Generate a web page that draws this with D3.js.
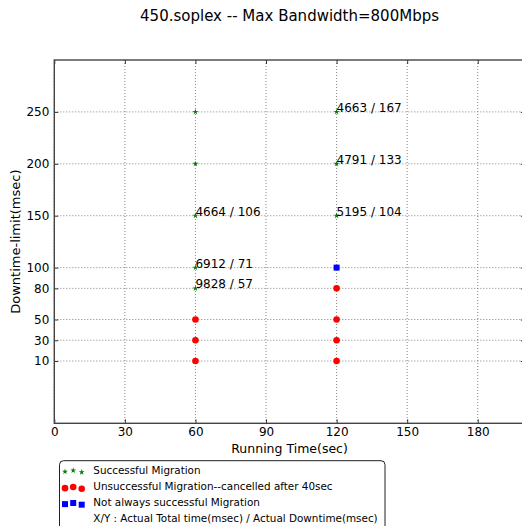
<!DOCTYPE html>
<html lang="en">
<head>
    <meta charset="UTF-8">
    <title>450.soplex -- Max Bandwidth=800Mbps</title>
    <script src="https://cdnjs.cloudflare.com/ajax/libs/d3/7.8.5/d3.min.js"></script>
    <style>
        body { margin: 0; background: #fff; }
        svg { display: block; font-family: "DejaVu Sans", sans-serif; }
        .tick text { font-family: "DejaVu Sans", sans-serif; font-size: 12px; fill: #000; }
    </style>
</head>
<body>
<script type="text/javascript">
    // chart data
    const successX = [60, 60, 60, 60, 60, 120, 120, 120];
    const successY = [250, 200, 150, 100, 80, 250, 200, 150];
    const failedX = [60, 60, 60, 120, 120, 120, 120];
    const failedY = [50, 30, 10, 80, 50, 30, 10];
    const partialX = [120];
    const partialY = [100];
    const noteX = [60, 60, 60, 120, 120, 120];
    const noteY = [150, 100, 80, 250, 200, 150];
    const noteText = ["4664 / 106", "6912 / 71", "9828 / 57", "4663 / 167", "4791 / 133", "5195 / 104"];
    const xTicks = [0, 30, 60, 90, 120, 150, 180];
    const yTicks = [10, 30, 50, 80, 100, 150, 200, 250];
    const legendLabels = ["Successful Migration",
                          "Unsuccessful Migration--cancelled after 40sec",
                          "Not always successful Migration",
                          "X/Y : Actual Total time(msec) / Actual Downtime(msec)"];

    const width = 522;
    const height = 526;
    const pLeft = 54.3, pRight = 524.8, pTop = 60, pBottom = 423.3;

    const xScale = d3.scaleLinear().domain([0, 200]).range([pLeft, pRight]);
    const yScale = d3.scaleLinear().domain([-50, 300]).range([pBottom, pTop]);

    const svg = d3.select('body').append('svg')
        .attr('width', width)
        .attr('height', height);

    // grid
    svg.append('g').selectAll('line')
        .data(xTicks)
        .enter().append('line')
        .attr('x1', d => xScale(d)).attr('x2', d => xScale(d))
        .attr('y1', pTop).attr('y2', pBottom)
        .attr('stroke', '#666').attr('stroke-width', 0.8)
        .attr('stroke-dasharray', '1,2');
    svg.append('g').selectAll('line')
        .data(yTicks)
        .enter().append('line')
        .attr('x1', pLeft).attr('x2', pRight)
        .attr('y1', d => yScale(d)).attr('y2', d => yScale(d))
        .attr('stroke', '#666').attr('stroke-width', 0.8)
        .attr('stroke-dasharray', '1,2');

    // axes, ticks inward like the classic style
    const xAxis = d3.axisBottom(xScale).tickValues(xTicks).tickSize(-4).tickPadding(4.5);
    const yAxis = d3.axisLeft(yScale).tickValues(yTicks).tickSize(-4).tickPadding(5);
    const xTop = d3.axisTop(xScale).tickValues(xTicks).tickSize(-4).tickFormat('');
    const yRight = d3.axisRight(yScale).tickValues(yTicks).tickSize(-4).tickFormat('');

    [
        [xAxis, 'translate(0,' + pBottom + ')'],
        [yAxis, 'translate(' + pLeft + ',0)'],
        [xTop, 'translate(0,' + pTop + ')'],
        [yRight, 'translate(' + pRight + ',0)']
    ].forEach(function(a) {
        const g = svg.append('g').attr('transform', a[1]).call(a[0]);
        g.select('.domain').remove();
        g.selectAll('.tick line').attr('stroke', '#333').attr('stroke-width', 1);
    });

    // spines
    svg.append('rect')
        .attr('x', pLeft).attr('y', pTop)
        .attr('width', pRight - pLeft).attr('height', pBottom - pTop)
        .attr('fill', 'none').attr('stroke', '#444').attr('stroke-width', 1.4);

    // markers
    const star = d3.symbol().type(d3.symbolStar).size(11);
    const square = d3.symbol().type(d3.symbolSquare).size(36);

    svg.append('g').selectAll('path')
        .data(successX)
        .enter().append('path')
        .attr('d', star)
        .attr('transform', (d, i) => 'translate(' + xScale(d) + ',' + yScale(successY[i]) + ')')
        .attr('fill', '#008000');

    svg.append('g').selectAll('circle')
        .data(failedX)
        .enter().append('circle')
        .attr('cx', d => xScale(d))
        .attr('cy', (d, i) => yScale(failedY[i]))
        .attr('r', 3.3)
        .attr('fill', '#ff0000');

    svg.append('g').selectAll('path')
        .data(partialX)
        .enter().append('path')
        .attr('d', square)
        .attr('transform', (d, i) => 'translate(' + xScale(d) + ',' + yScale(partialY[i]) + ')')
        .attr('fill', '#0000ff');

    // annotations
    svg.append('g').selectAll('text')
        .data(noteText)
        .enter().append('text')
        .attr('x', (d, i) => xScale(noteX[i]))
        .attr('y', (d, i) => yScale(noteY[i]))
        .attr('font-size', '12px')
        .attr('fill', '#000')
        .text(d => d);

    // title and labels
    svg.append('text')
        .attr('x', (pLeft + pRight) / 2).attr('y', 21)
        .attr('text-anchor', 'middle')
        .attr('font-size', '15px')
        .text('450.soplex -- Max Bandwidth=800Mbps');
    svg.append('text')
        .attr('x', (pLeft + pRight) / 2).attr('y', 453)
        .attr('text-anchor', 'middle')
        .attr('font-size', '12.5px')
        .text('Running Time(sec)');
    svg.append('text')
        .attr('transform', 'translate(19.5,' + (pTop + pBottom) / 2 + ') rotate(-90)')
        .attr('text-anchor', 'middle')
        .attr('font-size', '13px')
        .text('Downtime-limit(msec)');

    // legend
    const legend = svg.append('g');
    legend.append('rect')
        .attr('x', 59.5).attr('y', 460.7)
        .attr('width', 325.5).attr('height', 90)
        .attr('rx', 4)
        .attr('fill', '#fff').attr('stroke', '#222').attr('stroke-width', 1);

    const rowY = [470, 486.5, 502.5, 518];
    const handleX = [65, 73.2, 81.7];
    const offsets = [0.375, 0.5, 0.3125];
    const hh = 9;

    handleX.forEach(function(hx, j) {
        const dy = hh / 2 - offsets[j] * hh + 0.5;
        legend.append('path')
            .attr('d', star)
            .attr('transform', 'translate(' + hx + ',' + (rowY[0] + dy) + ')')
            .attr('fill', '#008000');
        legend.append('circle')
            .attr('cx', hx).attr('cy', rowY[1] + dy).attr('r', 3.3)
            .attr('fill', '#ff0000');
        legend.append('path')
            .attr('d', square)
            .attr('transform', 'translate(' + hx + ',' + (rowY[2] + dy) + ')')
            .attr('fill', '#0000ff');
    });

    legend.selectAll('text')
        .data(legendLabels)
        .enter().append('text')
        .attr('x', 93.3)
        .attr('y', (d, i) => rowY[i])
        .attr('dy', '0.36em')
        .attr('font-size', '10.4px')
        .text(d => d);
</script>
</body>
</html>
